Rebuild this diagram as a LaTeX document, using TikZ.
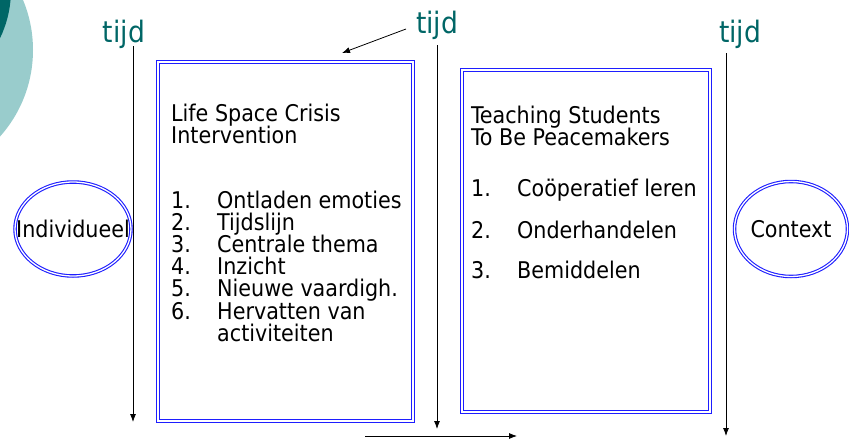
\documentclass[tikz,border=0pt]{standalone}
\usepackage{fontspec}
\setmainfont{DejaVu Sans Condensed}
\usetikzlibrary{arrows.meta,shapes.geometric}

\definecolor{tealdark}{RGB}{0,102,102}
\definecolor{teallight}{RGB}{153,204,204}
\definecolor{boxblue}{RGB}{30,30,255}

\tikzset{
  frame/.style={draw=boxblue, double=white, double distance=1.3pt, line width=1.1pt, inner sep=0pt},
  oval/.style={frame, ellipse, font=\fontsize{23}{24}\selectfont},
  txt/.style={anchor=base west, inner sep=0pt, font=\fontsize{23}{22.2}\selectfont},
  tijdlabel/.style={anchor=base, inner sep=0pt, text=tealdark, font=\fontsize{29.5}{30}\selectfont},
  timeline/.style={line width=0.8pt, -{Latex[length=8pt,width=6pt]}}
}

\begin{document}
\begin{tikzpicture}[x=1pt,y=-1pt]
\useasboundingbox (0,0) rectangle (849,439);

% ornament, top left
\begin{scope}
  \clip (0,0) rectangle (849,439);
  \fill[teallight] (-97,50) circle (130pt);
  \fill[tealdark] (-100,-10) circle (111pt);
\end{scope}

% time labels
\node[tijdlabel] (tijdA) at (124,42) {tijd};
\node[tijdlabel] (tijdB) at (437,33) {tijd};
\node[tijdlabel] (tijdC) at (740,42) {tijd};

% the two methods
\node[frame, minimum width=255pt, minimum height=359pt] (lsci) at (285.5,241.5) {};
\node[frame, minimum width=248pt, minimum height=342pt] (tsp) at (586,241) {};

\node[txt] (lsciTitle) at (171,121) {Life Space Crisis};
\node[txt] (lsciTitleB) at (171,143) {Intervention};
\foreach \n/\t [count=\i from 0] in {1./Ontladen emoties, 2./Tijdslijn, 3./Centrale thema,
    4./Inzicht, 5./Nieuwe vaardigh., 6./Hervatten van}{
  \node[txt] (lsciNum\i) at (171,208+22.2*\i) {\n};
  \node[txt] (lsciItem\i) at (217,208+22.2*\i) {\t};
}
\node[txt] (lsciItemEnd) at (217,341) {activiteiten};

\node[txt] (tspTitle) at (471,123) {Teaching Students};
\node[txt] (tspTitleB) at (471,145) {To Be Peacemakers};
\foreach \n/\t/\y [count=\i] in {1./Coöperatief leren/196, 2./Onderhandelen/238, 3./Bemiddelen/278}{
  \node[txt] (tspNum\i) at (471,\y) {\n};
  \node[txt] (tspItem\i) at (517,\y) {\t};
}

% levels
\node[oval, minimum width=116pt, minimum height=94pt] (indiv) at (73,229) {\makebox[0pt]{Individueel}};
\node[oval, minimum width=113pt, minimum height=95pt] (context) at (791,229) {\makebox[0pt]{Context}};

% time lines
\coordinate (lineAtop) at (133,46);  \coordinate (lineAend) at (133,422);
\coordinate (lineBtop) at (437,45);  \coordinate (lineBend) at (437,429);
\coordinate (lineCtop) at (726,53);  \coordinate (lineCend) at (726,436);
\draw[timeline] (lineAtop) -- (lineAend);
\draw[timeline] (lineBtop) -- (lineBend);
\draw[timeline] (lineCtop) -- (lineCend);

\coordinate (ptrStart) at (406,29);  \coordinate (ptrEnd) at (342,53);
\draw[timeline] (ptrStart) -- (ptrEnd);

\coordinate (flowStart) at (365,436);  \coordinate (flowEnd) at (517,436);
\draw[timeline] (flowStart) -- (flowEnd);
\end{tikzpicture}
\end{document}
